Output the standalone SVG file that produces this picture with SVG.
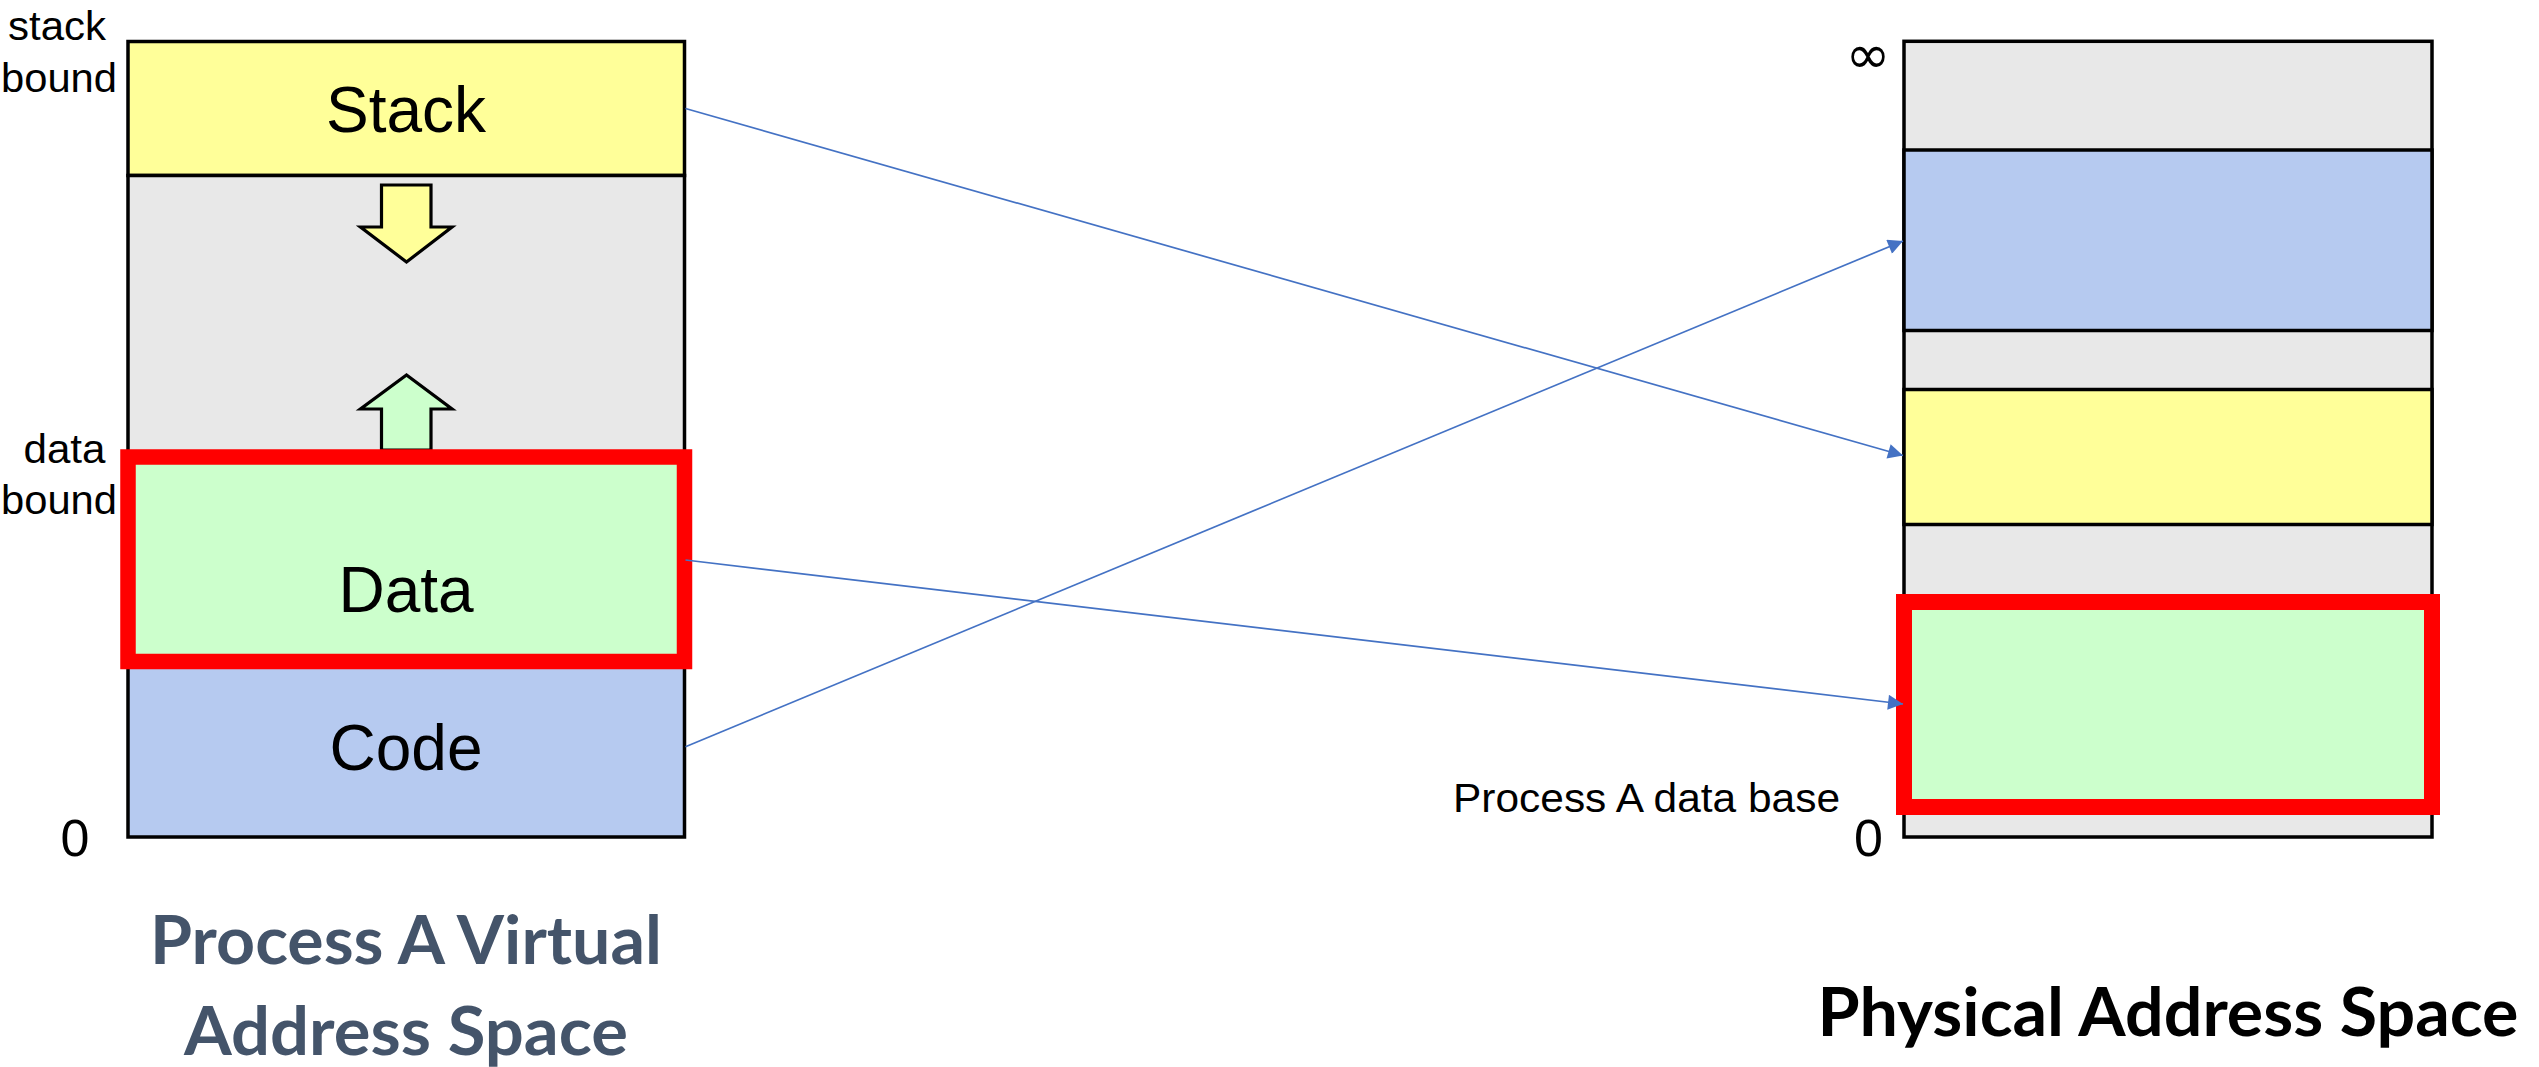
<svg xmlns="http://www.w3.org/2000/svg" width="2539" height="1067" viewBox="0 0 2539 1067">
  <style>
    .seg { stroke: #000; stroke-width: 3.5; }
    .free { fill: #E8E8E8; }
    .stack { fill: #FFFF99; }
    .data { fill: #CCFFCC; }
    .code { fill: #B6CAF0; }
    .hl { fill: none; stroke: #FF0000; stroke-width: 15.5; }
    .lbl { font-family: "Liberation Sans", Arial, sans-serif; font-size: 41px; fill: #000; }
    .seglbl { font-family: "Liberation Sans", Arial, sans-serif; font-size: 64px; fill: #000; text-anchor: middle; }
    .zero { font-family: "Liberation Sans", Arial, sans-serif; font-size: 52px; fill: #000; }
    .inf { font-family: "DejaVu Sans", sans-serif; font-size: 54px; fill: #000; text-anchor: middle; }
    .title { font-family: Lato, "Open Sans", sans-serif; font-weight: bold; font-size: 66px; text-anchor: middle; }
    .grow { stroke: #000; stroke-width: 3.2; stroke-linejoin: miter; }
    .map { fill: none; stroke: #4472C4; stroke-width: 1.7; marker-end: url(#tip); }
  </style>
  <defs>
    <marker id="tip" viewBox="0 0 10 10" refX="10" refY="5" markerUnits="userSpaceOnUse" markerWidth="16" markerHeight="15" orient="auto">
      <path d="M0,0 L10,5 L0,10 z" fill="#4472C4"/>
    </marker>
  </defs>

  <rect width="2539" height="1067" fill="#FFFFFF"/>

  <!-- Virtual address space of process A -->
  <g id="virtual-space">
    <g id="v-stack">
      <rect class="seg stack" x="128" y="41.5" width="556.5" height="134"/>
      <text class="seglbl" x="406" y="131.7">Stack</text>
    </g>
    <g id="v-free">
      <rect class="seg free" x="128" y="175.5" width="556.5" height="281.5"/>
      <!-- stack grows down -->
      <path class="grow" fill="#FFFF99" d="M381.5,185 H431 V227 H452 L406.5,262 L360.5,227 H381.5 Z"/>
      <!-- data grows up -->
      <path class="grow" fill="#CCFFCC" d="M381.5,450 H431 V409 H452 L406.5,375 L360.5,409 H381.5 Z"/>
    </g>
    <g id="v-code">
      <rect class="seg code" x="128" y="661.5" width="556.5" height="175.5"/>
      <text class="seglbl" x="406" y="770">Code</text>
    </g>
    <g id="v-data">
      <rect class="data" x="128" y="457" width="556.5" height="204.5"/>
      <rect class="hl" x="128" y="457" width="556.5" height="204.5"/>
      <text class="seglbl" x="406" y="611.7">Data</text>
    </g>
    <g id="v-labels">
      <text class="lbl" x="8" y="40" textLength="98" lengthAdjust="spacingAndGlyphs">stack</text>
      <text class="lbl" x="1" y="92" textLength="116" lengthAdjust="spacingAndGlyphs">bound</text>
      <text class="lbl" x="23.5" y="463" textLength="82" lengthAdjust="spacingAndGlyphs">data</text>
      <text class="lbl" x="1" y="514" textLength="116" lengthAdjust="spacingAndGlyphs">bound</text>
      <text class="zero" x="60.5" y="856">0</text>
    </g>
    <g id="v-title">
      <text class="title" fill="#44546A" x="406" y="964" textLength="512" lengthAdjust="spacingAndGlyphs">Process A Virtual</text>
      <text class="title" fill="#44546A" x="406" y="1055" textLength="444" lengthAdjust="spacingAndGlyphs">Address Space</text>
    </g>
  </g>

  <!-- Physical memory -->
  <g id="physical-space">
    <g id="p-frame">
      <rect class="seg free" x="1904" y="41.3" width="528" height="795.7"/>
    </g>
    <g id="p-code">
      <rect class="seg code" x="1904" y="150" width="528" height="180.5"/>
    </g>
    <g id="p-stack">
      <rect class="seg stack" x="1904" y="389.5" width="528" height="135"/>
    </g>
    <g id="p-data">
      <rect class="data" x="1904" y="602" width="528" height="205"/>
      <rect class="hl" x="1904" y="602" width="528" height="205" style="stroke-width:16"/>
    </g>
    <g id="p-labels">
      <text class="inf" x="1868" y="73">∞</text>
      <text class="lbl" x="1453" y="811.6" textLength="387" lengthAdjust="spacingAndGlyphs">Process A data base</text>
      <text class="zero" x="1854" y="856">0</text>
    </g>
    <g id="p-title">
      <text class="title" fill="#000000" x="2168" y="1036" textLength="701" lengthAdjust="spacingAndGlyphs">Physical Address Space</text>
    </g>
  </g>

  <!-- Segment translations -->
  <g id="connectors">
    <path class="map" d="M685.5,108.5 L1903,455.5"/>
    <path class="map" d="M685.5,560 L1903,704"/>
    <path class="map" d="M685.5,746.7 L1903,241"/>
  </g>
</svg>
